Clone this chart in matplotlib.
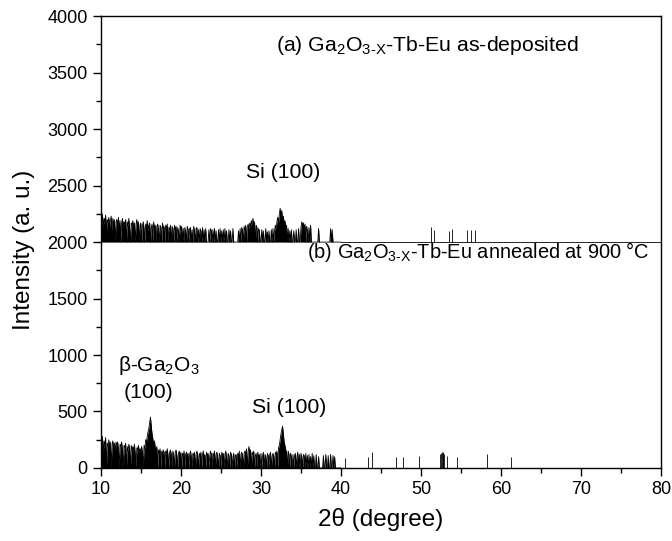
import numpy as np
import matplotlib
matplotlib.use("Agg")
import matplotlib.pyplot as plt
from matplotlib.ticker import MultipleLocator

plt.rcParams['font.family'] = ['Liberation Sans', 'DejaVu Sans']
plt.rcParams['mathtext.fontset'] = 'custom'
plt.rcParams['mathtext.rm'] = 'Liberation Sans'
plt.rcParams['mathtext.it'] = 'Liberation Sans:italic'
plt.rcParams['mathtext.bf'] = 'Liberation Sans:bold'
plt.rcParams['mathtext.default'] = 'regular'

# dense scan region, 2theta 10.0 .. 40.0, step 0.1
two_theta = np.round(np.arange(10.0, 40.05, 0.1), 1)

# (a) as-deposited (counts above its own baseline)
counts_a = [
    230, 160, 250, 120, 210, 180, 240, 90, 200, 170,
    220, 140, 190, 230, 100, 210, 160, 200, 0, 180,
    200, 150, 220, 110, 190, 0, 170, 210, 130, 180,
    160, 200, 0, 180, 140, 210, 120, 0, 170, 150,
    190, 110, 170, 0, 160, 200, 130, 180, 0, 150,
    170, 0, 140, 180, 120, 0, 160, 130, 190, 100,
    150, 170, 0, 130, 160, 0, 180, 120, 150, 0,
    140, 160, 110, 0, 150, 130, 0, 170, 120, 140,
    0, 150, 120, 160, 0, 130, 110, 150, 0, 140,
    120, 0, 150, 110, 140, 0, 130, 100, 0, 150,
    110, 140, 0, 120, 0, 130, 100, 0, 140, 110,
    0, 120, 130, 0, 110, 0, 140, 100, 0, 120,
    130, 0, 110, 0, 120, 100, 0, 130, 0, 110,
    0, 120, 0, 0, 0, 110, 0, 120, 100, 0,
    110, 0, 120, 0, 100, 0, 0, 110, 0, 120,
    0, 100, 0, 110, 0, 120, 0, 100, 0, 0,
    110, 0, 100, 0, 0, 120, 0, 0, 0, 0,
    0, 0, 100, 0, 120, 0, 130, 110, 0, 140,
    100, 150, 0, 130, 160, 120, 170, 140, 190, 150,
    210, 160, 180, 0, 150, 130, 0, 120, 100, 0,
    0, 110, 0, 100, 0, 0, 120, 0, 90, 0,
    100, 0, 0, 110, 0, 120, 0, 100, 150, 120,
    180, 220, 170, 250, 300, 240, 280, 200, 230, 160,
    190, 130, 150, 0, 120, 0, 100, 0, 110, 0,
    0, 100, 0, 0, 110, 0, 0, 120, 0, 0,
    130, 180, 150, 170, 120, 160, 0, 140, 100, 0,
    130, 0, 150, 0, 0, 0, 0, 0, 0, 0,
    0, 0, 120, 0, 0, 0, 0, 0, 0, 0,
    0, 0, 0, 0, 0, 0, 0, 120, 0, 110,
    0, 0, 0, 0, 0, 0, 0, 0, 0, 0,
    0,
]

# (b) annealed at 900 C
counts_b = [
    260, 180, 280, 130, 240, 200, 270, 0, 220, 190,
    250, 160, 230, 0, 210, 240, 180, 220, 150, 230,
    200, 230, 170, 0, 210, 190, 230, 160, 0, 200,
    180, 220, 0, 190, 150, 210, 170, 0, 200, 160,
    190, 150, 210, 130, 0, 180, 160, 200, 140, 170,
    150, 190, 140, 0, 200, 170, 250, 230, 280, 320,
    350, 400, 450, 370, 300, 260, 210, 240, 180, 150,
    190, 0, 160, 130, 170, 0, 150, 120, 160, 140,
    0, 150, 130, 170, 110, 0, 140, 160, 120, 0,
    150, 120, 0, 140, 160, 110, 0, 130, 150, 100,
    140, 0, 130, 110, 150, 0, 120, 140, 100, 130,
    0, 120, 150, 100, 0, 130, 110, 140, 0, 120,
    150, 110, 0, 130, 100, 140, 0, 120, 150, 90,
    120, 0, 140, 110, 130, 0, 100, 150, 120, 0,
    130, 100, 150, 0, 120, 140, 90, 0, 130, 110,
    0, 140, 110, 130, 0, 120, 150, 100, 0, 130,
    110, 0, 140, 120, 0, 100, 130, 0, 110, 120,
    0, 130, 100, 150, 0, 120, 140, 110, 0, 130,
    150, 120, 170, 0, 140, 190, 130, 160, 0, 140,
    120, 150, 0, 110, 130, 0, 140, 100, 120, 0,
    130, 0, 110, 140, 0, 120, 100, 0, 130, 110,
    0, 120, 140, 0, 100, 130, 110, 0, 140, 120,
    150, 0, 180, 200, 250, 300, 340, 370, 300, 230,
    200, 160, 140, 0, 150, 120, 0, 130, 100, 0,
    120, 0, 110, 130, 0, 100, 140, 0, 120, 0,
    130, 100, 0, 120, 110, 0, 130, 0, 110, 0,
    120, 0, 100, 0, 130, 0, 110, 0, 0, 120,
    0, 0, 100, 0, 0, 0, 0, 0, 110, 0,
    0, 120, 0, 0, 110, 0, 0, 120, 0, 0,
    110, 0, 100, 0, 0, 0, 0, 0, 0, 0,
    0,
]

# isolated spikes beyond 40 degrees
spikes_a_x = [51.2, 51.6, 53.45, 53.9, 55.75, 56.2, 56.7]
spikes_a_y = [133, 106, 100, 120, 106, 110, 106]
spikes_b_x = [40.5, 43.4, 43.9, 46.9, 47.7, 49.8, 52.4, 52.5, 52.6, 52.7,
              52.8, 52.9, 53.3, 54.5, 58.25, 61.25]
spikes_b_y = [90, 100, 145, 95, 95, 105, 120, 130, 145, 140,
              130, 120, 105, 95, 120, 95]

offset_a = 2000
offset_b = 0

fig = plt.figure(figsize=(6.72, 5.41), dpi=100)
ax = fig.add_axes([0.150, 0.135, 0.834, 0.835])

lw = 0.6
for counts, sx, sy, off in [(counts_a, spikes_a_x, spikes_a_y, offset_a),
                            (counts_b, spikes_b_x, spikes_b_y, offset_b)]:
    y = np.array(counts) + off
    ax.fill_between(two_theta, off, y, color='black', lw=0)
    ax.plot(two_theta, y, color='black', lw=lw)
    ax.plot([two_theta[-1], 80], [off, off], color='black', lw=lw)
    ax.vlines(sx, off, np.array(sy) + off, color='black', lw=lw)

ax.set_xlim(10, 80)
ax.set_ylim(0, 4000)
ax.xaxis.set_major_locator(MultipleLocator(10))
ax.xaxis.set_minor_locator(MultipleLocator(5))
ax.yaxis.set_major_locator(MultipleLocator(500))
ax.yaxis.set_minor_locator(MultipleLocator(250))
ax.tick_params(which='both', direction='out', top=False, right=False,
               labelsize=13, width=1.0)
ax.tick_params(which='major', length=6)
ax.tick_params(which='minor', length=3.5)
for s in ax.spines.values():
    s.set_linewidth(1.0)

ax.set_xlabel('2θ (degree)', fontsize=17.5, labelpad=7)
ax.set_ylabel('Intensity (a. u.)', fontsize=17.5)
ax.yaxis.set_label_coords(-0.117, 0.483)

ax.text(31.9, 3745, r'(a) Ga$_2$O$_{3\text{-X}}$-Tb-Eu as-deposited', fontsize=15.3, va='center')
ax.text(28.1, 2620, 'Si (100)', fontsize=15.3, va='center')
ax.text(35.7, 1912, r'(b) Ga$_2$O$_{3\text{-X}}$-Tb-Eu annealed at 900 °C', fontsize=14.4, va='center')
ax.text(12.1, 903, r'β-Ga$_2$O$_3$', fontsize=15, va='center')
ax.text(12.9, 664, '(100)', fontsize=15.3, va='center')
ax.text(28.9, 531, 'Si (100)', fontsize=15.3, va='center')

fig.savefig('out.png', dpi=100)
